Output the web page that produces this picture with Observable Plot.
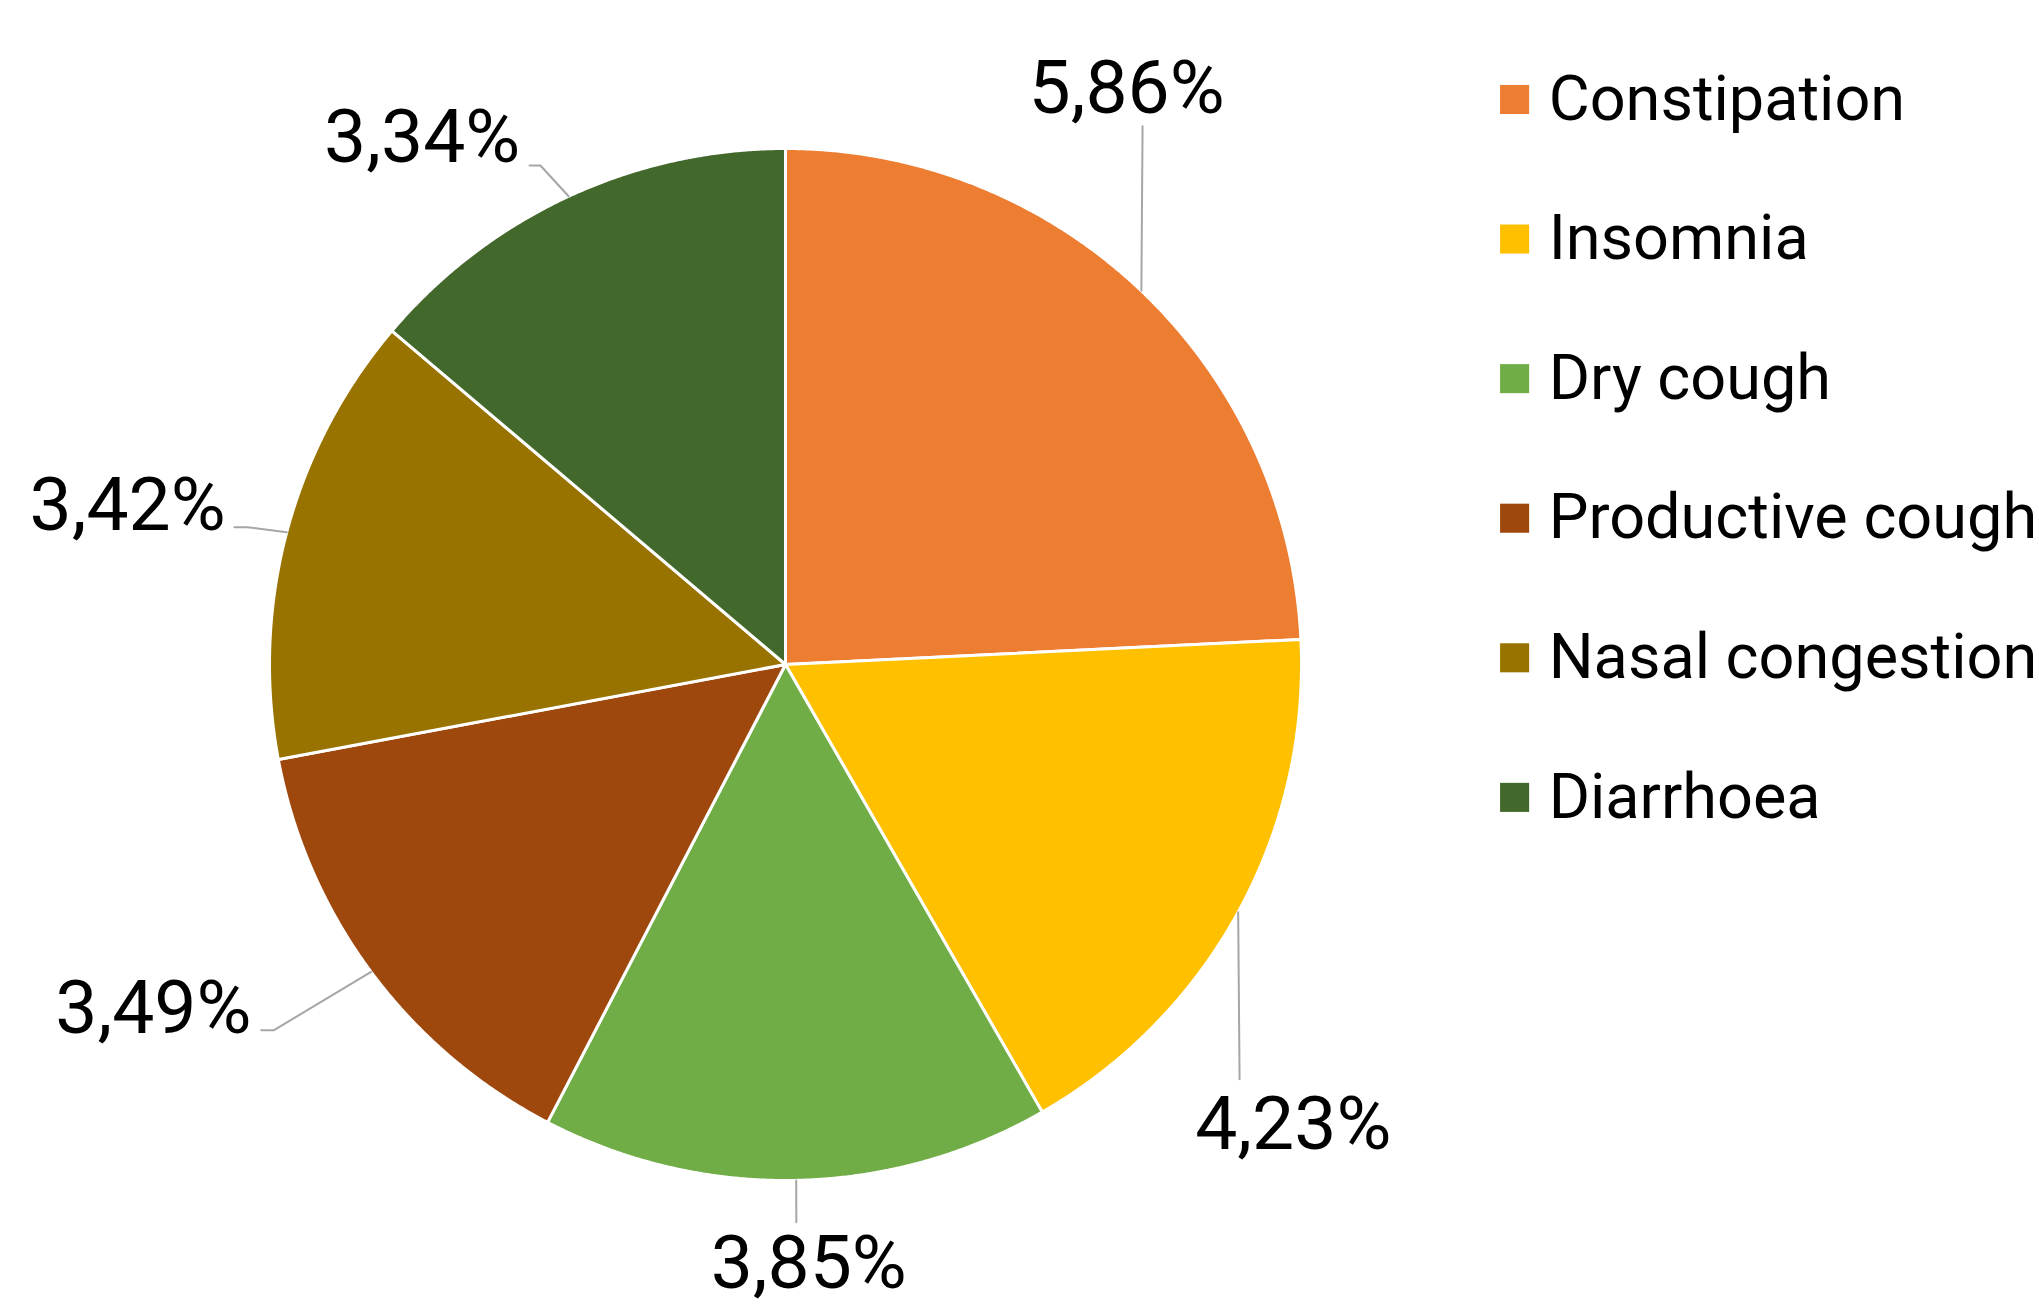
<!DOCTYPE html>
<html><head><meta charset="utf-8">
<script src="https://cdn.jsdelivr.net/npm/d3@7"></script>
<script src="https://cdn.jsdelivr.net/npm/@observablehq/plot@0.6"></script>
<style>html,body{margin:0;padding:0;background:#fff} svg{display:block}</style>
</head><body><div id="chart"></div>
<script>
// ---- data ----
const categories = ["Constipation","Insomnia","Dry cough","Productive cough","Nasal congestion","Diarrhoea"];
const values = [5.86, 4.23, 3.85, 3.49, 3.42, 3.34];
const valueLabels = ["5,86%","4,23%","3,85%","3,49%","3,42%","3,34%"];
const colors = ["#ED7D31","#FFC000","#70AD47","#9E480E","#997300","#43682B"];

// ---- layout (pie radius units, relative to pie centre, y up) ----
const W = 2039, H = 1307, CX = 785, CY = 664, R = 516;
const labelLayout = [
  {ex: 0.692, ey: 1.043, tx: null,   lx: 0.661,  ly: 1.116,  anchor: "middle"},
  {ex: 0.880, ey: -0.804, tx: null,  lx: 0.984,  ly: -0.893, anchor: "middle"},
  {ex: 0.021, ey: -1.081, tx: null,  lx: 0.045,  ly: -1.162, anchor: "middle"},
  {ex: -0.992, ey: -0.709, tx: -1.016, lx: -1.035, ly: -0.667, anchor: "end"},
  {ex: -1.043, ey: 0.266, tx: -1.068, lx: -1.085, ly: 0.308,  anchor: "end"},
  {ex: -0.475, ey: 0.967, tx: -0.496, lx: -0.514, ly: 1.021,  anchor: "end"}
];
const legendLayout = {sx: 1.413, tx: 1.479, y0: 1.095, step: 0.2705};

// ---- build ----
const rows = categories.map((c, i) => ({category: c, value: values[i], label: valueLabels[i], i}));
const arcs = d3.pie().sort(null).value(d => d.value).startAngle(0).endAngle(2 * Math.PI)(rows);

const slicePts = [];
arcs.forEach(a => {
  const c = a.data.category;
  slicePts.push({category: c, x: 0, y: 0});
  const n = Math.max(2, Math.ceil((a.endAngle - a.startAngle) / 0.004));
  for (let k = 0; k <= n; k++) {
    const t = a.startAngle + (a.endAngle - a.startAngle) * k / n;
    slicePts.push({category: c, x: Math.sin(t), y: Math.cos(t)});
  }
  slicePts.push({category: c, x: 0, y: 0});
});

const leaderPts = [];
const labelPts = [];
arcs.forEach((a, i) => {
  const L = labelLayout[i];
  const m = (a.startAngle + a.endAngle) / 2;
  const c = a.data.category;
  leaderPts.push({category: c, x: Math.sin(m), y: Math.cos(m)});
  leaderPts.push({category: c, x: L.ex, y: L.ey});
  if (L.tx !== null) leaderPts.push({category: c, x: L.tx, y: L.ey});
  labelPts.push({label: a.data.label, x: L.lx, y: L.ly, anchor: L.anchor});
});

const legendRows = rows.map((r, i) => ({category: r.category, y: legendLayout.y0 - i * legendLayout.step}));

const chart = Plot.plot({
  width: W, height: H,
  margin: 0,
  style: {fontFamily: "Roboto, 'Noto Sans', sans-serif", background: "#fff"},
  x: {domain: [-CX / R, (W - CX) / R], range: [0, W], axis: null},
  y: {domain: [-(H - CY) / R, CY / R], range: [H, 0], axis: null},
  color: {domain: categories, range: colors},
  marks: [
    Plot.line(slicePts, {x: "x", y: "y", z: "category", fill: "category", stroke: "#fff", strokeWidth: 3, strokeLinejoin: "round", curve: "linear"}),
    Plot.line(leaderPts, {x: "x", y: "y", z: "category", stroke: "#a6a6a6", strokeWidth: 2, curve: "linear"}),
    Plot.text(labelPts.filter(d => d.anchor === "middle"), {x: "x", y: "y", text: "label", fontSize: 75, fill: "#000", textAnchor: "middle"}),
    Plot.text(labelPts.filter(d => d.anchor === "end"), {x: "x", y: "y", text: "label", fontSize: 75, fill: "#000", textAnchor: "end"}),
    Plot.dot(legendRows, {x: () => legendLayout.sx, y: "y", symbol: "square", r: 16.4, fill: "category", stroke: "none"}),
    Plot.text(legendRows, {x: () => legendLayout.tx, y: "y", text: "category", fontSize: 63, fill: "#000", textAnchor: "start"})
  ]
});
document.getElementById("chart").appendChild(chart);
</script>
</body></html>
